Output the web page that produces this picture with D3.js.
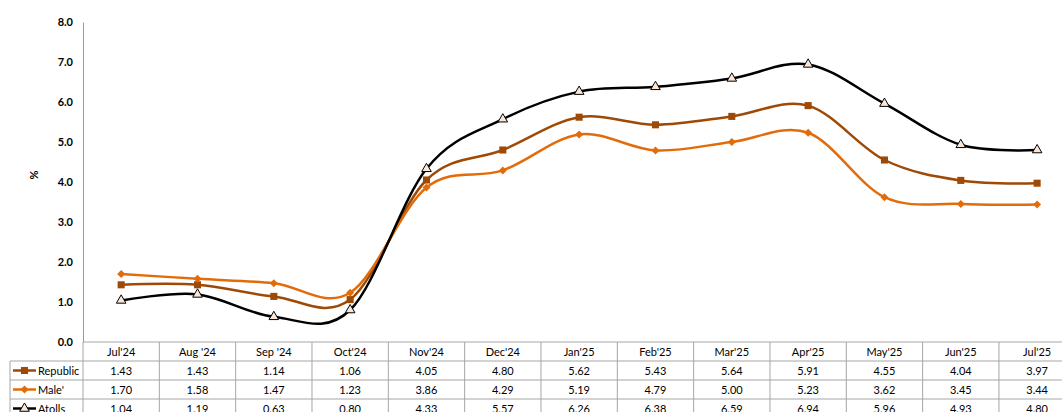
<!DOCTYPE html>
<html>
<head>
<meta charset="utf-8">
<script src="https://cdn.jsdelivr.net/npm/d3@7"></script>
<style>
  body { margin: 0; background: #fff; }
  text { font-family: Lato, "Open Sans", sans-serif; }
</style>
</head>
<body>
<div id="chart"></div>
<script>
const months = ["Jul'24", "Aug '24", "Sep '24", "Oct'24", "Nov'24", "Dec'24", "Jan'25",
                "Feb'25", "Mar'25", "Apr'25", "May'25", "Jun'25", "Jul'25"];
const republic = [1.43, 1.43, 1.14, 1.06, 4.05, 4.80, 5.62, 5.43, 5.64, 5.91, 4.55, 4.04, 3.97];
const male = [1.70, 1.58, 1.47, 1.23, 3.86, 4.29, 5.19, 4.79, 5.00, 5.23, 3.62, 3.45, 3.44];
const atolls = [1.04, 1.19, 0.63, 0.80, 4.33, 5.57, 6.26, 6.38, 6.59, 6.94, 5.96, 4.93, 4.80];
const yTicks = [0, 1, 2, 3, 4, 5, 6, 7, 8];

const series = [
  {name: "Republic", values: republic, color: "#9e4a06", marker: "square"},
  {name: "Male'", values: male, color: "#e36c0a", marker: "diamond"},
  {name: "Atolls", values: atolls, color: "#000000", marker: "triangle"}
];

const W = 1062, H = 412;
const margin = {top: 22, left: 83},
    plotBottom = 342,
    colW = 76.33,
    rowH = 19,
    legendLeft = 10;

const svg = d3.select("#chart").append("svg")
    .attr("width", W)
    .attr("height", H);

const x = d3.scaleBand()
    .domain(months)
    .range([margin.left, margin.left + colW * months.length]);

const y = d3.scaleLinear()
    .domain([0, 8])
    .range([plotBottom, margin.top]);

// y axis
const yAxis = svg.append("g")
    .attr("transform", `translate(${margin.left},0)`)
    .call(d3.axisLeft(y).tickValues(yTicks).tickFormat(d3.format(".1f")).tickSize(0).tickPadding(10));
yAxis.select(".domain").attr("stroke", "#9a9a9a");
yAxis.selectAll("text")
    .attr("font-size", 11)
    .attr("font-weight", "bold")
    .attr("fill", "#000");

svg.append("text")
    .attr("transform", `translate(38,175) rotate(-90)`)
    .attr("text-anchor", "middle")
    .attr("font-size", 11)
    .attr("font-weight", "bold")
    .text("%");

// marker shapes, diamond = square turned 45deg
const symbolFor = {
  square: {d: d3.symbol().type(d3.symbolSquare).size(50)(), rot: 0},
  diamond: {d: d3.symbol().type(d3.symbolSquare).size(32)(), rot: 45},
  triangle: {d: d3.symbol().type(d3.symbolTriangle).size(40)(), rot: 0}
};

const line = d3.line()
    .x((d, i) => x(months[i]) + x.bandwidth() / 2)
    .y(d => y(d))
    .curve(d3.curveCardinal.tension(0));

const plot = svg.append("g");
series.forEach(s => {
  plot.append("path")
      .datum(s.values)
      .attr("fill", "none")
      .attr("stroke", s.color)
      .attr("stroke-width", 2.5)
      .attr("d", line);
});
series.forEach(s => {
  const sym = symbolFor[s.marker];
  plot.selectAll(null)
      .data(s.values)
      .join("path")
      .attr("transform", (d, i) => `translate(${x(months[i]) + x.bandwidth() / 2},${y(d)}) rotate(${sym.rot})`)
      .attr("d", sym.d)
      .attr("fill", s.marker === "triangle" ? "#fbe5d6" : s.color)
      .attr("stroke", s.marker === "triangle" ? "#000" : "none")
      .attr("stroke-width", 1);
});

// data table
const table = svg.append("g");
const gridColor = "#a6a6a6";
const right = margin.left + colW * months.length;

table.append("line")
    .attr("x1", margin.left).attr("x2", right)
    .attr("y1", plotBottom).attr("y2", plotBottom)
    .attr("stroke", gridColor);
[1, 2, 3].forEach(r => {
  table.append("line")
      .attr("x1", legendLeft).attr("x2", right)
      .attr("y1", plotBottom + r * rowH).attr("y2", plotBottom + r * rowH)
      .attr("stroke", gridColor);
});
table.append("line")
    .attr("x1", legendLeft).attr("x2", legendLeft)
    .attr("y1", plotBottom + rowH).attr("y2", H)
    .attr("stroke", gridColor);
months.forEach(m => {
  table.append("line")
      .attr("x1", x(m) + x.bandwidth()).attr("x2", x(m) + x.bandwidth())
      .attr("y1", plotBottom).attr("y2", H)
      .attr("stroke", gridColor);
});
table.append("line")
    .attr("x1", margin.left).attr("x2", margin.left)
    .attr("y1", plotBottom).attr("y2", H)
    .attr("stroke", gridColor);

table.selectAll(".hdr")
    .data(months)
    .join("text")
    .attr("x", d => x(d) + x.bandwidth() / 2)
    .attr("y", plotBottom + rowH / 2 + 4)
    .attr("text-anchor", "middle")
    .attr("font-size", 11)
    .text(d => d);

series.forEach((s, r) => {
  const cy = plotBottom + (r + 1) * rowH + rowH / 2;
  const sym = symbolFor[s.marker];
  table.selectAll(null)
      .data(s.values)
      .join("text")
      .attr("x", (d, i) => x(months[i]) + x.bandwidth() / 2)
      .attr("y", cy + 4)
      .attr("text-anchor", "middle")
      .attr("font-size", 11)
      .text(d => d.toFixed(2));

  table.append("line")
      .attr("x1", 13).attr("x2", 36)
      .attr("y1", cy).attr("y2", cy)
      .attr("stroke", s.color)
      .attr("stroke-width", 2.5);
  table.append("path")
      .attr("transform", `translate(24.5,${cy}) rotate(${sym.rot})`)
      .attr("d", sym.d)
      .attr("fill", s.marker === "triangle" ? "#fbe5d6" : s.color)
      .attr("stroke", s.marker === "triangle" ? "#000" : "none");
  table.append("text")
      .attr("x", 38)
      .attr("y", cy + 4)
      .attr("font-size", 11)
      .text(s.name);
});
</script>
</body>
</html>
